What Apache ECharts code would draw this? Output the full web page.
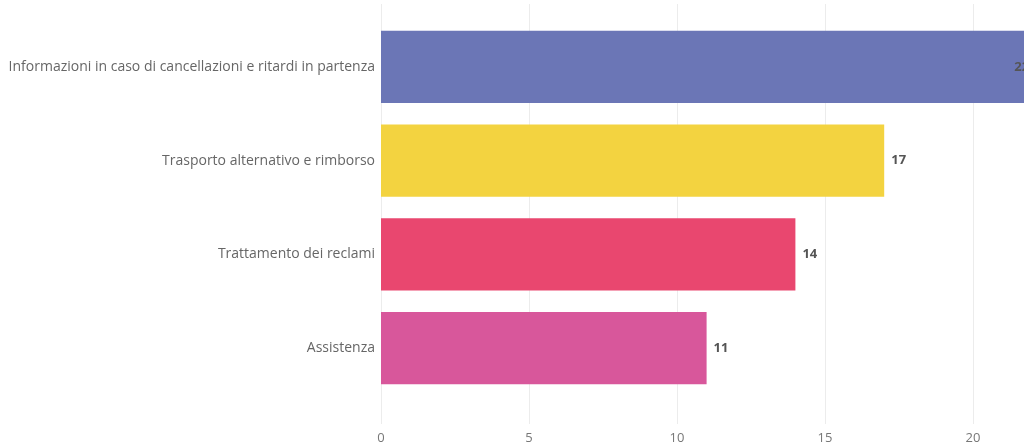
<!DOCTYPE html>
<html>
<head>
<meta charset="utf-8">
<script src="https://cdn.jsdelivr.net/npm/echarts@6/dist/echarts.min.js"></script>
<style>html,body{margin:0;padding:0;background:#fff}#c{width:1024px;height:443px}</style>
</head>
<body>
<div id="c"></div>
<script>
const categories = [
  "Informazioni in caso di cancellazioni e ritardi in partenza",
  "Trasporto alternativo e rimborso",
  "Trattamento dei reclami",
  "Assistenza"
];
const values = [22, 17, 14, 11];
const colors = ["#6B76B6", "#F3D340", "#E9476F", "#D8579B"];
const xTicks = [0, 5, 10, 15, 20, 25];

const chart = echarts.init(document.getElementById('c'), null, {renderer: 'canvas'});
const font = '"Open Sans", "Noto Sans", sans-serif';
chart.setOption({
  animation: false,
  grid: [
    {left: 381, width: 740, top: 20, bottom: 48, containLabel: false, outerBoundsMode: 'none'},
    {left: 381, width: 740, top: 4, bottom: 19, containLabel: false, outerBoundsMode: 'none'}
  ],
  xAxis: [
    {gridIndex: 0, type: 'value', min: xTicks[0], max: xTicks[xTicks.length-1], interval: 5,
     axisLabel: {show: false}, splitLine: {show: false}, axisLine: {show: false}, axisTick: {show: false}},
    {gridIndex: 1, type: 'value', min: xTicks[0], max: xTicks[xTicks.length-1], interval: 5,
     axisLine: {show: false}, axisTick: {show: false},
     splitLine: {show: true, lineStyle: {color: '#ececec', width: 1}},
     axisLabel: {color: '#777', fontSize: 13, fontFamily: font, margin: 8}}
  ],
  yAxis: [
    {gridIndex: 0, type: 'category', data: categories, inverse: true,
     axisLine: {show: false}, axisTick: {show: false},
     axisLabel: {color: '#666', fontSize: 14, fontFamily: font, margin: 6}},
    {gridIndex: 1, type: 'category', data: [''], show: false}
  ],
  series: [{
    type: 'bar',
    xAxisIndex: 0, yAxisIndex: 0,
    barCategoryGap: '23%',
    data: values.map((v, i) => ({
      value: v,
      itemStyle: {color: colors[i]},
      label: i === 0 ? {position: 'insideRight', offset: [4, 0]} : {}
    })),
    label: {show: true, position: 'right', distance: 7, color: '#555', fontWeight: 'bold', fontSize: 13, fontFamily: font}
  }]
});
</script>
</body>
</html>
